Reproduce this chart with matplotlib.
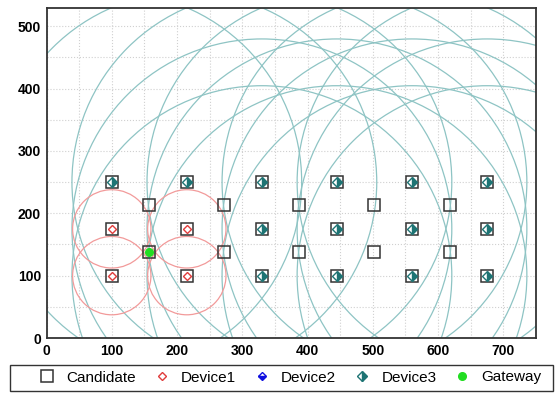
import matplotlib
matplotlib.use('Agg')
import matplotlib.pyplot as plt
from matplotlib.patches import Ellipse, Rectangle
from matplotlib.ticker import MultipleLocator

plt.rcParams['font.family'] = ['Liberation Sans', 'DejaVu Sans']

# device positions
dev1_x = [100, 100, 215, 215]
dev1_y = [100, 175, 100, 175]
dev2_x = []
dev2_y = []
dev3_x = [100, 215, 330, 330, 330, 445, 445, 445, 560, 560, 560, 675, 675, 675]
dev3_y = [250, 250, 100, 175, 250, 100, 175, 250, 100, 175, 250, 100, 175, 250]

# relay candidates between the devices
relay_x = [157.5, 272.5, 387.5, 502.5, 617.5, 157.5, 272.5, 387.5, 502.5, 617.5]
relay_y = [137.5, 137.5, 137.5, 137.5, 137.5, 212.5, 212.5, 212.5, 212.5, 212.5]

gw_x = [157.5]
gw_y = [137.5]

# communication ranges (x units)
r_dev1 = 60
r_dev3 = 291

cand_x = dev1_x + dev3_x + relay_x
cand_y = dev1_y + dev3_y + relay_y

xmax, ymax = 750, 530

fig = plt.figure(figsize=(5.59, 3.93), dpi=100)
ax = fig.add_axes([46.5/559, 55/393, 489.5/559, 330.5/393])
ax.set_xlim(0, xmax)
ax.set_ylim(0, ymax)

# keep circles round on screen
pw = 489.5 / xmax
ph = 330.5 / ymax
k = pw / ph

for x, y in zip(dev3_x, dev3_y):
    ax.add_patch(Ellipse((x, y), 2*r_dev3, 2*r_dev3*k, fill=False,
                         ec='#8ec4c4', lw=0.9, zorder=1))
for x, y in zip(dev1_x, dev1_y):
    ax.add_patch(Ellipse((x, y), 2*r_dev1, 2*r_dev1*k, fill=False,
                         ec='#f29a9a', lw=0.9, zorder=1))

ax.plot(cand_x, cand_y, 's', ms=8.3, mfc='none', mec='#333333', mew=1.1,
        zorder=3, label='Candidate')
ax.plot(dev1_x, dev1_y, 'D', ms=4.3, mfc='white', mec='#e03c3c', mew=1.0,
        zorder=4, label='Device1')
ax.plot(dev2_x, dev2_y, 'D', ms=4.5, fillstyle='bottom', mfc='#1010e0',
        markerfacecoloralt='white', mec='#1010e0', mew=1.0, zorder=4,
        label='Device2')
ax.plot(dev3_x, dev3_y, 'D', ms=5.5, fillstyle='right', mfc='#1e7474',
        markerfacecoloralt='white', mec='#1e7474', mew=1.0, zorder=4,
        label='Device3')
ax.plot(gw_x, gw_y, 'o', ms=5.5, mfc='#22dd22', mec='#22dd22', zorder=5,
        label='Gateway')

ax.xaxis.set_major_locator(MultipleLocator(100))
ax.yaxis.set_major_locator(MultipleLocator(100))
ax.xaxis.set_minor_locator(MultipleLocator(50))
ax.yaxis.set_minor_locator(MultipleLocator(50))
ax.grid(True, which='both', ls=':', color='#d0d0d0', lw=0.8, zorder=0)
ax.set_axisbelow(True)
ax.tick_params(which='both', length=0, labelsize=10, pad=4)
for lab in ax.get_xticklabels() + ax.get_yticklabels():
    lab.set_fontweight('bold')
for s in ax.spines.values():
    s.set_color('#333333')
    s.set_linewidth(1.3)

# legend box drawn separately so the entries can sit off-centre
fig.patches.append(Rectangle((10/559, 2/393), 543/559, 26/393,
                             transform=fig.transFigure, fill=False,
                             ec='#333333', lw=1.0))
fig.legend(loc='center left', bbox_to_anchor=(38/559, 15.5/393), ncol=5,
           fontsize=11, frameon=False, numpoints=1, borderpad=0,
           borderaxespad=0, handlelength=1.2, handletextpad=0.65,
           columnspacing=1.1)

fig.savefig('out.png', dpi=100)
